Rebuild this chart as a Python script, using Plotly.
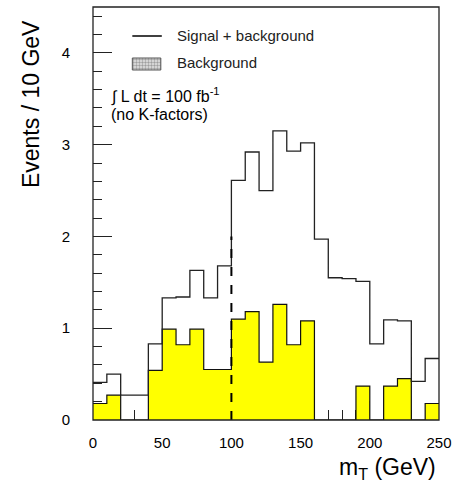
import plotly.graph_objects as go

# ---- data ----
bin_low_edges = [0, 10, 20, 30, 40, 50, 60, 70, 80, 90, 100, 110, 120, 130, 140,
                 150, 160, 170, 180, 190, 200, 210, 220, 230, 240]
bin_width = 10
signal_plus_background = [0.41, 0.50, 0.27, 0.27, 0.83, 1.33, 1.34, 1.63, 1.33, 1.68,
                          2.61, 2.92, 2.50, 3.15, 2.93, 3.02, 1.97, 1.55, 1.54, 1.51,
                          0.83, 1.09, 1.08, 0.42, 0.67]
background = [0.18, 0.27, 0.0, 0.0, 0.54, 0.99, 0.82, 0.99, 0.55, 0.55,
              1.10, 1.18, 0.63, 1.26, 0.82, 1.08, 0.0, 0.0, 0.0, 0.37,
              0.0, 0.37, 0.45, 0.0, 0.18]
cut_mt = 100
cut_height = 2.0
x_tick_vals = [0, 50, 100, 150, 200, 250]
y_tick_vals = [0, 1, 2, 3, 4]

# ---- layout geometry ----
W, H = 459, 490
L, R, T, B = 93, 14, 7, 70
PW, PH = W - L - R, H - T - B


def px(x):
    return (x - L) / PW


def py(y):
    return (H - B - y) / PH


def steps(vals):
    xs = bin_low_edges + [bin_low_edges[-1] + bin_width]
    ys = list(vals) + [vals[-1]]
    return xs, ys


fig = go.Figure()

bx, by = steps(background)
fig.add_trace(go.Scatter(x=bx, y=by, mode="lines", line_shape="hv",
                         fill="tozeroy", fillcolor="#ffff00",
                         line=dict(color="#111111", width=1.2),
                         showlegend=False, hoverinfo="skip"))

sx, sy = steps(signal_plus_background)
fig.add_trace(go.Scatter(x=sx, y=sy, mode="lines", line_shape="hv",
                         line=dict(color="#222222", width=1.3),
                         showlegend=False, hoverinfo="skip"))

# stippled legend swatch on an overlay axis in paper-like units
bx0, bx1, by0, by1 = px(133), px(162), py(70), py(58)
fig.add_trace(go.Scatter(x=[bx0, bx1, bx1, bx0, bx0], y=[by0, by0, by1, by1, by0],
                         xaxis="x2", yaxis="y2", mode="lines", fill="toself",
                         fillcolor="#e8e8e8",
                         fillpattern=dict(shape=".", fgcolor="#555555", bgcolor="#e6e6e6",
                                          size=3, solidity=0.5),
                         line=dict(color="#555555", width=1),
                         showlegend=False, hoverinfo="skip"))

# dashed cut line
fig.add_shape(type="line", xref="x", yref="y", x0=cut_mt, x1=cut_mt, y0=0, y1=cut_height,
              line=dict(color="black", width=2, dash="dash"), layer="above")

# frame
fig.add_shape(type="rect", xref="paper", yref="paper", x0=0, x1=1, y0=0, y1=1,
              line=dict(color="#222222", width=1.3), layer="above")

# legend line sample
fig.add_shape(type="line", xref="paper", yref="paper", x0=px(133), x1=px(163),
              y0=py(36), y1=py(36), line=dict(color="black", width=1.5))

lab_font = dict(family="Liberation Sans", size=15, color="#222222")
fig.add_annotation(xref="paper", yref="paper", x=px(176), y=py(35), text="Signal + background",
                   showarrow=False, xanchor="left", yanchor="middle", font=lab_font)
fig.add_annotation(xref="paper", yref="paper", x=px(176), y=py(63), text="Background",
                   showarrow=False, xanchor="left", yanchor="middle", font=lab_font)

txt_font = dict(family="Liberation Sans", size=16, color="black")
fig.add_annotation(xref="paper", yref="paper", x=px(109), y=py(95),
                   text="\u222b L dt = 100 fb<sup>-1</sup>",
                   showarrow=False, xanchor="left", yanchor="middle", font=txt_font)
fig.add_annotation(xref="paper", yref="paper", x=px(109), y=py(114),
                   text="(no K-factors)",
                   showarrow=False, xanchor="left", yanchor="middle", font=txt_font)

# axis titles
fig.add_annotation(xref="paper", yref="paper", x=px(30), y=py(104),
                   text="Events / 10 GeV", textangle=-90, showarrow=False,
                   xanchor="center", yanchor="middle",
                   font=dict(family="Liberation Sans", size=23, color="black"))
fig.add_annotation(xref="paper", yref="paper", x=px(444), y=py(468),
                   text="m<sub>T</sub> (GeV)", showarrow=False,
                   xanchor="right", yanchor="middle",
                   font=dict(family="Liberation Sans", size=23, color="black"))

tick_font = dict(family="Liberation Sans", size=15, color="black")
fig.update_xaxes(range=[0, 250], tickmode="array", tickvals=x_tick_vals,
                 ticks="inside", ticklen=19, tickcolor="#222222", tickwidth=1.2,
                 minor=dict(dtick=10, ticks="inside", ticklen=10, tickcolor="#222222", tickwidth=1.2),
                 showgrid=False, zeroline=False, showline=False,
                 tickfont=tick_font, ticklabelstandoff=12, layer="below traces")
fig.update_yaxes(range=[0, 4.5], tickmode="array", tickvals=y_tick_vals,
                 ticks="inside", ticklen=19, tickcolor="#222222", tickwidth=1.2,
                 minor=dict(dtick=0.2, ticks="inside", ticklen=9, tickcolor="#222222", tickwidth=1.2),
                 showgrid=False, zeroline=False, showline=False,
                 tickfont=tick_font, ticklabelstandoff=22, layer="below traces")

fig.update_layout(
    xaxis2=dict(overlaying="x", range=[0, 1], visible=False, fixedrange=True),
    yaxis2=dict(overlaying="y", range=[0, 1], visible=False, fixedrange=True),
    width=W, height=H, margin=dict(l=L, r=R, t=T, b=B),
    paper_bgcolor="white", plot_bgcolor="white", showlegend=False)

fig.write_html("out.html")
